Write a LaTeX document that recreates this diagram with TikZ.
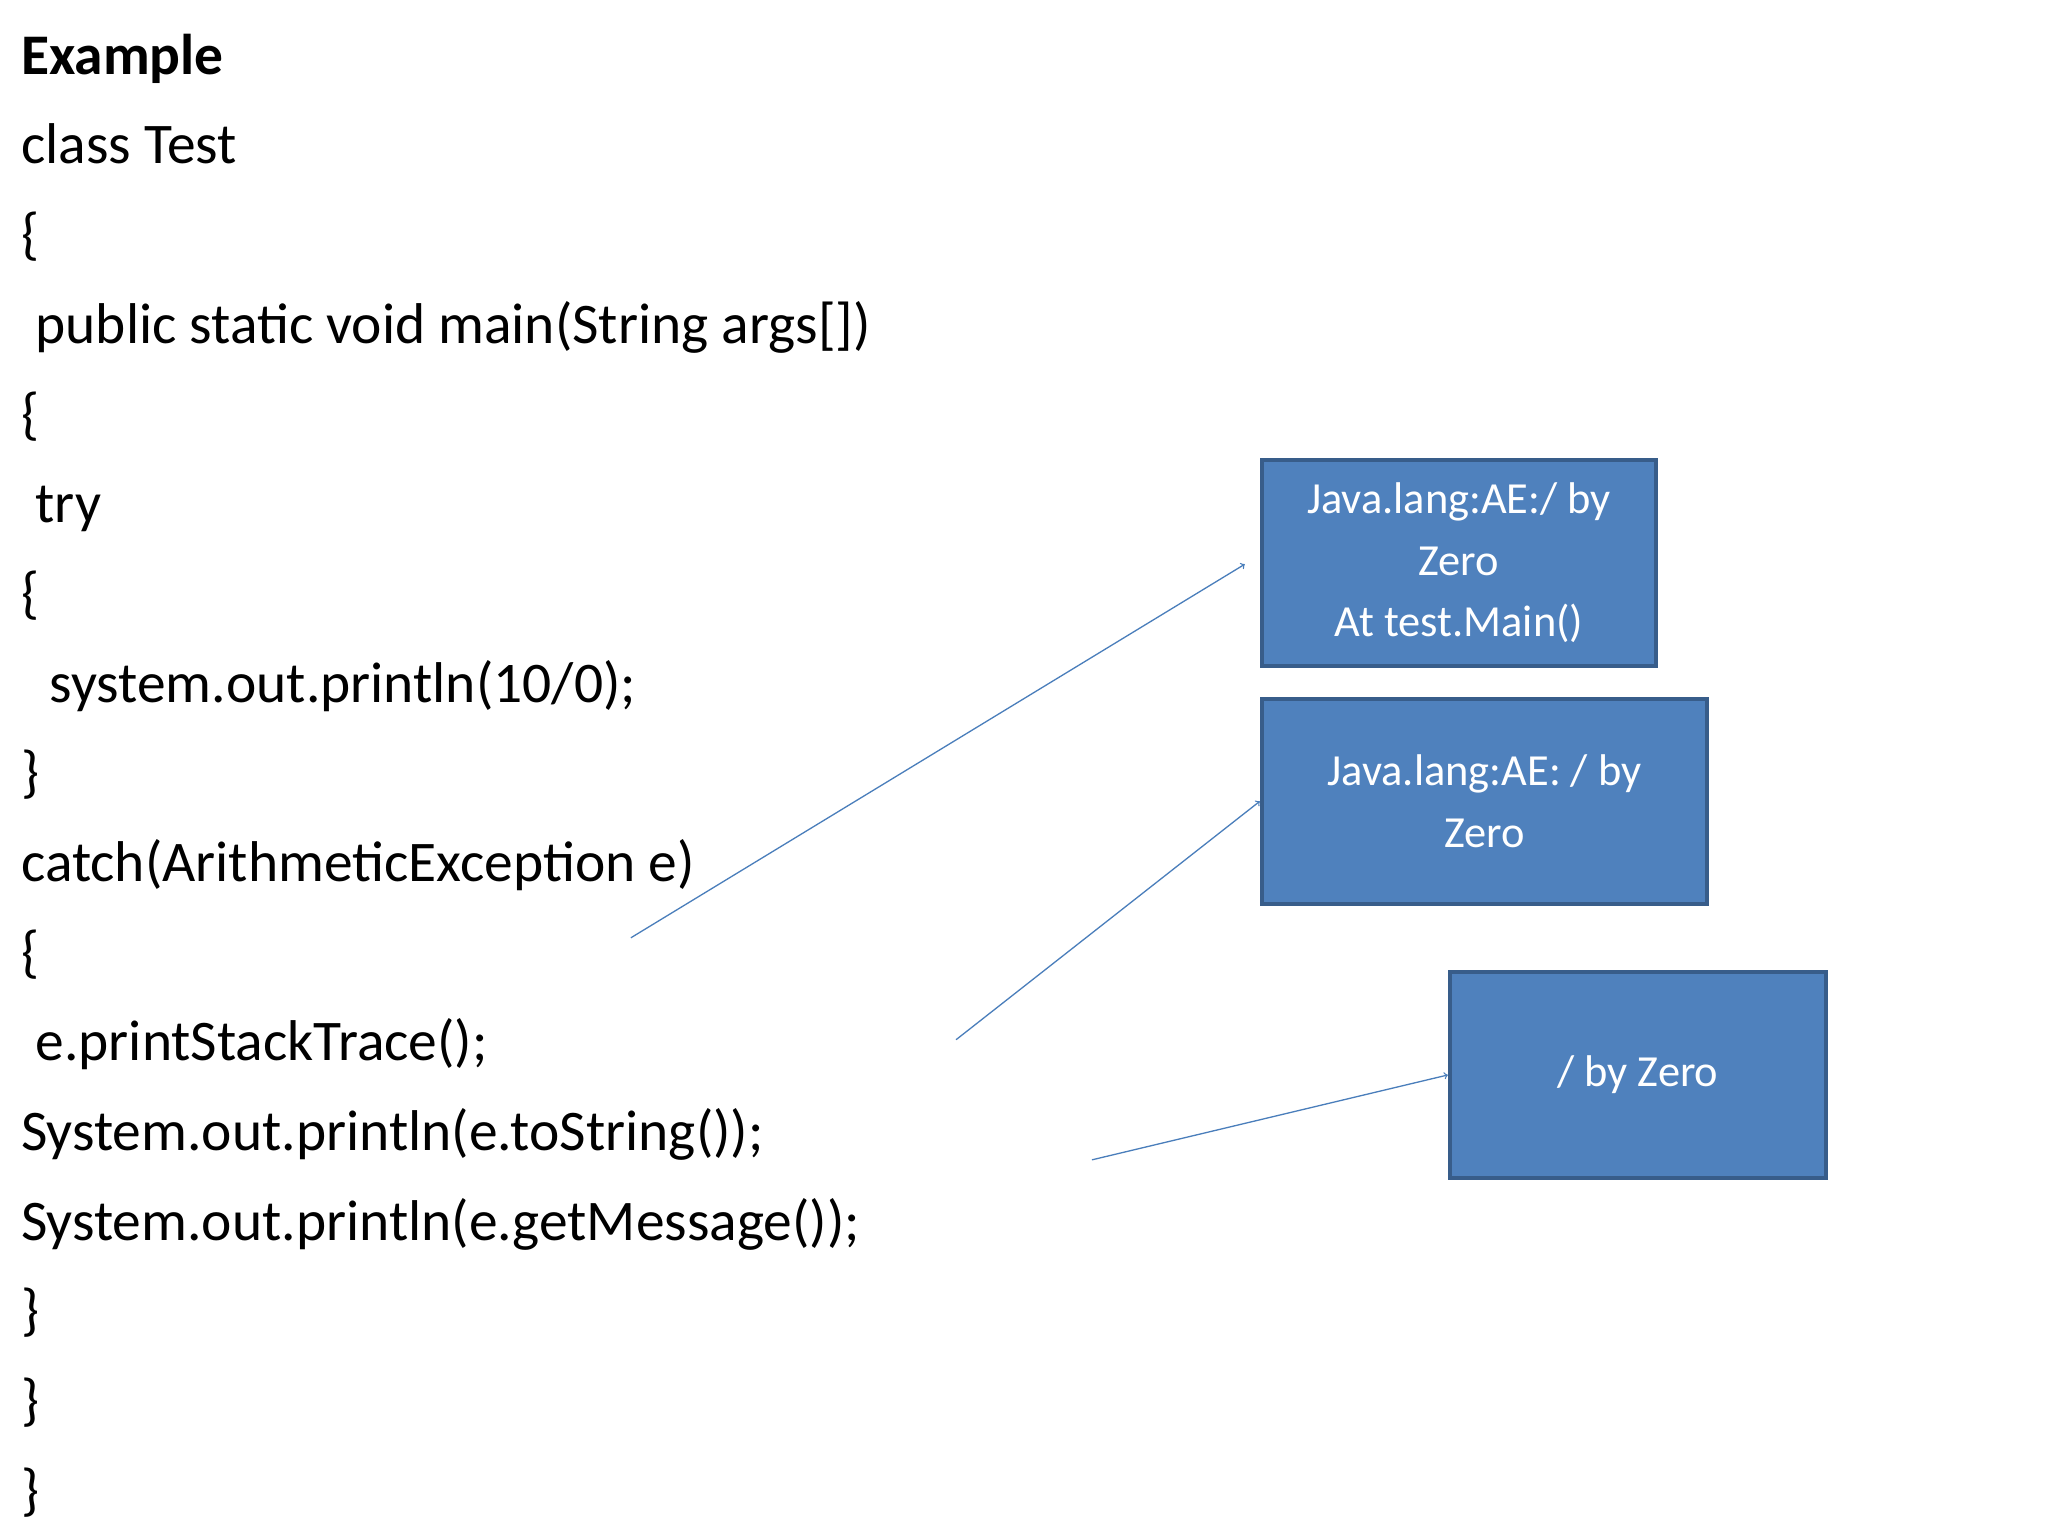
\documentclass[tikz,border=0pt]{standalone}
\usepackage{fontspec}
\setmainfont{Carlito}
\definecolor{bordc}{HTML}{385D8A}
\definecolor{fillc}{HTML}{4F81BD}
\definecolor{arrc}{HTML}{4A7EBB}
\begin{document}
\begin{tikzpicture}[x=1pt,y=-1pt,
 code/.style={anchor=base west,inner sep=0pt,font=\fontsize{44}{50}\selectfont},
 box/.style={draw=bordc,line width=3pt,fill=fillc,text=white,font=\fontsize{34}{47}\selectfont,align=center,inner sep=0pt},
 arr/.style={draw=arrc,line width=1pt,->}]
\useasboundingbox[fill=white] (0,0) rectangle (1568,1176);
\node[code,font=\fontsize{44}{50}\selectfont\bfseries] (l0) at (16,57) {Example};
\node[code] (l1) at (16,125) {class Test};
\node[code] (l2) at (16,194) {\{};
\node[code] (l3) at (27,263) {public static void main(String args[])};
\node[code] (l4) at (16,332) {\{};
\node[code] (l5) at (27,400) {try};
\node[code] (l6) at (16,469) {\{};
\node[code] (l7) at (38,538) {system.out.println(10/0);};
\node[code] (l8) at (16,606) {\}};
\node[code] (l9) at (16,675) {catch(ArithmeticException e)};
\node[code] (l10) at (16,744) {\{};
\node[code] (l11) at (27,812) {e.printStackTrace();};
\node[code] (l12) at (16,881) {System.out.println(e.toString());};
\node[code] (l13) at (16,950) {System.out.println(e.getMessage());};
\node[code] (l14) at (16,1018) {\}};
\node[code] (l15) at (16,1087) {\}};
\node[code] (l16) at (16,1156) {\}};
\node[box,minimum width=302,minimum height=158] (b1) at (1117,431) {Java.lang:AE:/ by\\Zero\\At test.Main()};
\node[box,minimum width=341,minimum height=157] (b2) at (1136.5,613.5) {Java.lang:AE: / by\\Zero};
\node[box,minimum width=288,minimum height=158] (b3) at (1254,823) {/ by Zero};
\coordinate (s1) at (483,718);
\coordinate (s2) at (732,796);
\coordinate (s3) at (836,888);
\coordinate (t1) at (953,432);
\draw[arr] (s1) -- (t1);
\draw[arr] (s2) -- (b2.west);
\draw[arr] (s3) -- (b3.west);
\end{tikzpicture}
\end{document}
